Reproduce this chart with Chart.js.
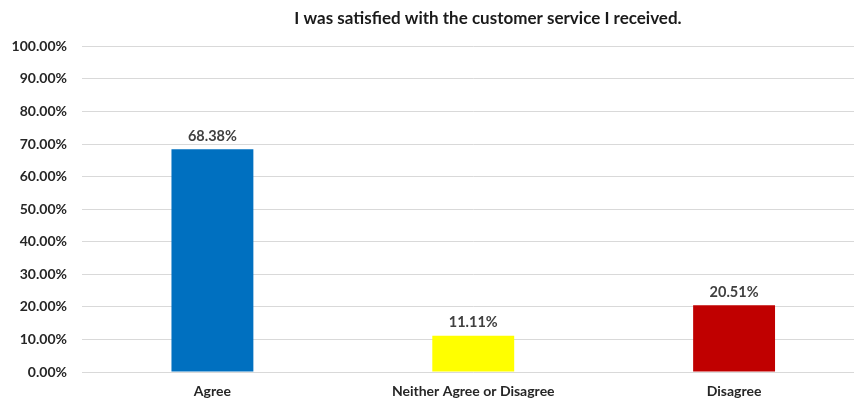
<!DOCTYPE html>
<html>
<head>
<meta charset="utf-8">
<script src="https://cdn.jsdelivr.net/npm/chart.js@4/dist/chart.umd.min.js"></script>
<style>
html,body{margin:0;padding:0;background:#fff;overflow:hidden;width:854px;height:403px;}
canvas{display:block;}
</style>
</head>
<body>
<canvas id="c" width="976" height="403"></canvas>
<script>
const titleText = "I was satisfied with the customer service I received.";
const categories = ["Agree", "Neither Agree or Disagree", "Disagree"];
const values = [68.38, 11.11, 20.51];
const barColors = ["#0070C0", "#FFFF00", "#C00000"];
const yMin = 0, yMax = 100, yStep = 10;

const FONT = "Lato, 'Open Sans', sans-serif";

const valueLabels = {
  id: 'valueLabels',
  afterDatasetsDraw(chart) {
    const ctx = chart.ctx;
    const meta = chart.getDatasetMeta(0);
    ctx.save();
    ctx.font = "bold 14.5px " + FONT;
    ctx.fillStyle = "#404040";
    ctx.textAlign = "center";
    ctx.textBaseline = "bottom";
    meta.data.forEach((bar, i) => {
      ctx.fillText(values[i].toFixed(2) + "%", bar.x, bar.y - 6);
    });
    ctx.restore();
  }
};

new Chart(document.getElementById('c'), {
  type: 'bar',
  data: {
    labels: categories,
    datasets: [{
      data: values,
      backgroundColor: barColors,
      borderWidth: 0,
      barPercentage: 0.314,
      categoryPercentage: 1.0
    }]
  },
  options: {
    responsive: false,
    animation: false,
    devicePixelRatio: 1,
    layout: { padding: 0 },
    plugins: {
      legend: { display: false },
      tooltip: { enabled: false },
      title: {
        display: true,
        text: titleText,
        color: "#1a1a1a",
        font: { family: FONT, size: 17, weight: 'bold' },
        padding: { top: 8, bottom: 18 }
      }
    },
    scales: {
      x: {
        grid: { display: false, drawTicks: false },
        border: { display: false },
        ticks: {
          color: "#262626",
          font: { family: FONT, size: 14, weight: 'bold' },
          padding: 11,
          maxRotation: 0,
          autoSkip: false
        },
        afterFit(s) { s.height = 31; }
      },
      y: {
        min: yMin, max: yMax,
        grid: { color: "#d9d9d9", lineWidth: 1, drawTicks: false },
        border: { display: false },
        ticks: {
          stepSize: yStep,
          color: "#262626",
          font: { family: FONT, size: 14, weight: 'bold' },
          padding: 15,
          callback: v => Number(v).toFixed(2) + "%"
        },
        afterFit(s) { s.width = 82; }
      },
      yRight: {
        position: 'right',
        display: true,
        grid: { display: false, drawTicks: false },
        border: { display: false },
        ticks: { display: false },
        afterFit(s) { s.width = 111.5; }
      }
    }
  },
  plugins: [valueLabels]
});
</script>
</body>
</html>
